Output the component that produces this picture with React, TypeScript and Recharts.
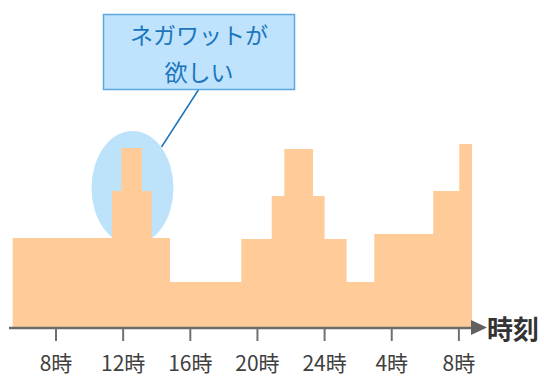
import { AreaChart, Area, XAxis, YAxis } from "recharts";

// hour of day (continuing past 24) where each step begins, and demand level
const hours = [5.42, 11.33, 11.89, 13.12, 13.7, 14.79, 19.04, 20.85, 21.6, 23.31, 24.0, 25.31, 26.96, 30.47, 32.02, 32.78];
const demand = [90, 137, 180, 137, 90, 46, 89, 132, 179, 132, 89, 46, 94, 137, 184, 184];

const tickHours = [8, 12, 16, 20, 24, 28, 32];
const tickLabels = ["8時", "12時", "16時", "20時", "24時", "4時", "8時"];

const data = hours.map((t, i) => ({ t, v: demand[i] }));

const font = '"Noto Sans CJK JP", "Noto Sans", sans-serif';

function HourTick(props: any) {
  const { x, y, payload } = props;
  const idx = tickHours.indexOf(payload.value);
  return (
    <text
      x={x}
      y={y + 19}
      textAnchor="middle"
      dominantBaseline="central"
      fontSize={21}
      fill="#404040"
      fontFamily={font}
    >
      {tickLabels[idx]}
    </text>
  );
}

export default function App() {
  return (
    <div style={{ position: "absolute", left: 0, top: 0, width: 544, height: 377, background: "#fff" }}>
      {/* highlight behind the midday peak */}
      <svg width={544} height={377} style={{ position: "absolute", left: 0, top: 0 }}>
        <ellipse cx={132.5} cy={188} rx={41} ry={57} fill="#BDE3FB" />
      </svg>
      <div style={{ position: "absolute", left: 0, top: 0 }}>
        <AreaChart width={544} height={377} data={data} margin={{ top: 128, right: 70, bottom: 0, left: 9 }}>
          <YAxis hide domain={[0, 200]} />
          <XAxis
            type="number"
            dataKey="t"
            domain={[5.2, 32.9]}
            ticks={tickHours}
            height={49}
            tick={<HourTick />}
            tickSize={13}
            tickLine={{ stroke: "#707070", strokeWidth: 2 }}
            axisLine={{ stroke: "#6b6b6b", strokeWidth: 2.5 }}
            interval={0}
          />
          <Area
            type="stepAfter"
            dataKey="v"
            stroke="none"
            fill="#FFCC99"
            fillOpacity={1}
            isAnimationActive={false}
          />
        </AreaChart>
      </div>
      {/* annotations on top */}
      <svg width={544} height={377} style={{ position: "absolute", left: 0, top: 0 }}>
        <polygon points="471,320 487,327.5 471,335" fill="#606060" />
        <text x={487} y={327} dominantBaseline="central" fontSize={26} fontWeight="bold" fill="#333" fontFamily={font}>
          時刻
        </text>
        <line x1={199} y1={89} x2={161.5} y2={147} stroke="#1B75BC" strokeWidth={1.5} />
        <rect x={103.5} y={14.5} width={191} height={75} fill="#BFE3FC" stroke="#5BA8E0" strokeWidth={1.5} />
        <text x={199} y={34} textAnchor="middle" dominantBaseline="central" fontSize={23} fill="#1B75BC" fontFamily={font}>
          ネガワットが
        </text>
        <text x={199} y={71} textAnchor="middle" dominantBaseline="central" fontSize={23} fill="#1B75BC" fontFamily={font}>
          欲しい
        </text>
      </svg>
    </div>
  );
}
